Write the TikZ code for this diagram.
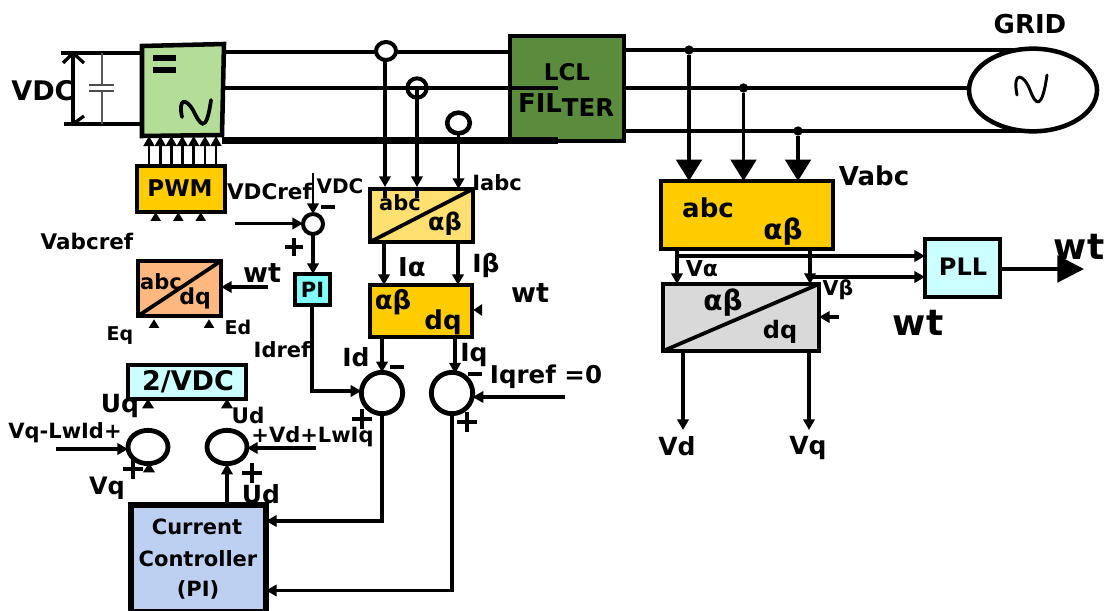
\documentclass[tikz,border=0pt]{standalone}
\usepackage{fontspec}
\setmainfont{DejaVu Sans}[BoldFont={DejaVu Sans Bold}]
\usetikzlibrary{arrows.meta,fit,shapes.geometric}
\newcommand{\fpx}[1]{\pgfmathsetmacro{\fpv}{#1*0.75}\fontsize{\fpv pt}{\fpv pt}\selectfont\bfseries}
\tikzset{
  pxgrid/.style={x=0.75pt,y=-0.75pt},
  blk/.style={draw=black,line width=3.4pt,inner sep=0pt,outer sep=0pt,rectangle},
  wire/.style={line width=2.6pt,draw=black},
  arr/.style={line width=2.7pt,draw=black,-{Triangle[length=8pt,width=8.5pt]}},
  bigarr/.style={line width=2.8pt,draw=black,-{Triangle[length=16pt,width=19pt]}},
  lab/.style={inner sep=0pt,outer sep=0pt,text=black,align=center},
  sumc/.style={draw=black,line width=3.6pt,fill=white,ellipse,inner sep=0pt,outer sep=0pt},
  tri/.style={fill=black,draw=none,isosceles triangle,isosceles triangle stretches,inner sep=0pt,minimum width=8pt,minimum height=6.5pt,shape border rotate=90},
  dot/.style={fill=black,circle,inner sep=0pt,minimum size=7pt},
  diag/.style={line width=2.8pt,draw=black},
}
\begin{document}
\begin{tikzpicture}[pxgrid]
\useasboundingbox (0,0) rectangle (1109,610);
\path[fill=white] (0,0) rectangle (1109,610);

% converter
\draw[line width=3.4pt,fill={rgb,255:red,180;green,222;blue,152}] (142,46) -- (224,44) -- (222,135) -- (142,136) -- cycle;
\node[inner sep=0pt,outer sep=0pt,fit={(142,45)(223,136)}] (conv) {};
\draw[line width=3.8pt] (153,58) -- (176,58) (153,70) -- (176,70);
\draw[line width=2.8pt,line cap=round] (182,117) .. controls (178,98) and (186,98) .. (193,110) .. controls (200,124) and (206,136) .. (211,100);

% DC side
\coordinate (dct0) at (61,53); \coordinate (dcb0) at (64,124);
\coordinate (dctm) at (73,53); \coordinate (dcbm) at (73,124);
\draw[wire] (dct0) -- (dct0 -| conv.west);
\draw[wire] (dcb0) -- (dcb0 -| conv.west);
\draw[line width=2.4pt] (dctm) -- (dcbm);
\draw[line width=2.4pt] (63,63) -- (dctm) -- (84,63);
\draw[line width=2.4pt] (73,124) -- (84,116);
\coordinate (cpt) at (102,53); \coordinate (cpb) at (102,124);
\coordinate (cp1) at (102,85); \coordinate (cp2) at (102,91);
\draw[line width=0.8pt,draw=black!65] (cpt) -- (cp1) (cp2) -- (cpb);
\draw[line width=1.4pt,draw=black!70] (89,85) -- (114,85) (89,91) -- (114,91);
\node[lab,font=\fpx{27}] (vdc) at (43,91) {VDC};

% power rails left of filter
\node[blk,fill={rgb,255:red,91;green,140;blue,62},fit={(510,36)(624,141)}] (lcl) {};
\node[lab,font=\fpx{23}] (lcl1) at (567,72) {LCL};
\node[lab,font=\fpx{26}] (lcl2) at (540,103) {FIL};
\node[lab,font=\fpx{24.5}] (lcl3) at (588,108) {TER};
\coordinate (m1) at (558,88); \coordinate (m2) at (558,140.5);
\draw[wire] (conv.east |- 0,52) -- (lcl.west |- 0,52);
\draw[line width=3.2pt] (conv.east |- 0,88) -- (m1);
\draw[line width=5pt] (222,140.5) -- (m2);

% grid
\coordinate (rgt) at (1025,50); \coordinate (rgm) at (970,88); \coordinate (rgb) at (1025,131);
\draw[wire] (lcl.east |- rgt) -- (rgt);
\draw[wire] (lcl.east |- rgm) -- (rgm);
\draw[wire] (lcl.east |- rgb) -- (rgb);
\node[draw=black,line width=3.4pt,ellipse,fill=white,minimum width=96pt,minimum height=62pt,inner sep=0pt,outer sep=0pt] (grid) at (1033,90) {};
\draw[line width=2.2pt,line cap=round] (1017,95) .. controls (1012,70) and (1024,74) .. (1030,90) .. controls (1036,106) and (1042,110) .. (1047,75);
\node[lab,font=\fpx{26}] (gridt) at (1030,24) {GRID};

% sensors
\node[sumc,minimum width=15pt,minimum height=13.5pt,line width=3pt] (s1) at (386,51) {};
\node[draw=black,line width=3pt,circle,minimum size=14.5pt,inner sep=0pt,outer sep=0pt] (s2) at (417,88) {};
\node[sumc,minimum width=17pt,minimum height=15.5pt,line width=3.4pt] (s3) at (458.5,123) {};

% abc/alpha-beta current
\node[blk,line width=3pt,fill={rgb,255:red,255;green,224;blue,112},fit={(370,189)(473,242)}] (cabc) {};
\draw[diag] (cabc.south west) -- (cabc.north east);
\node[lab,font=\fpx{21}] (cabc1) at (400,203) {abc};
\node[lab,font=\fpx{24}] (cabc2) at (445,224) {αβ};
\node[lab,font=\fpx{21}] (iabc) at (497,183) {Iabc};
\coordinate (ax1) at (385,198); \coordinate (ax2) at (417,198);
\draw[line width=2.7pt] (385,187) -- (ax1) (417,187) -- (ax2);
\draw[arr] (385,61) -- (385,187);
\draw[arr] (417,88) -- (417,187);
\draw[arr] (s3.south) -- (s3.south |- cabc.north);

% alpha-beta/dq current
\node[blk,fill={rgb,255:red,255;green,204;blue,0},fit={(370,285)(472,337)}] (cdq) {};
\node[lab,font=\fpx{26}] (cdq1) at (393,302) {αβ};
\node[lab,font=\fpx{26}] (cdq2) at (443,322) {dq};
\draw[arr] (384,244) -- (384,285);
\draw[arr] (458,244) -- (458,285);
\node[lab,font=\fpx{26}] (ia) at (412,267) {Iα};
\node[lab,font=\fpx{25}] (ib) at (486,265) {Iβ};
\node[lab,font=\fpx{27}] (wt1) at (530,293) {wt};
\node[tri,shape border rotate=180,minimum width=9pt] (wt1t) at (479,310) {};

% current sums
\node[sumc,circle,minimum size=31pt] (sd) at (382,393) {};
\node[sumc,circle,minimum size=31pt] (sq) at (452,393) {};
\draw[arr] (382,339) -- (sd.north);
\draw[arr] (455,339) -- (455,373.5);
\node[lab,font=\fpx{25}] (idt) at (356,357) {Id};
\node[lab,font=\fpx{25}] (iqt) at (474,355) {Iq};
\draw[line width=3.2pt] (390,367) -- (404,367) (468,374) -- (482,374);
\draw[line width=3.6pt] (352,419) -- (372,419) (362,409) -- (362,429);
\draw[line width=3.6pt] (457,422) -- (477,422) (467,412) -- (467,432);
\node[lab,font=\fpx{24.5}] (iqref) at (546,377) {Iqref =0};
\coordinate (iqs) at (565,397);
\draw[arr] (iqs) -- (sq.east |- iqs);

% VDC sum + PI
\node[sumc,circle,minimum size=15pt,line width=3pt] (sv) at (313,224) {};
\coordinate (vt) at (313,173); \coordinate (vl) at (235,223.5);
\draw[arr,line width=2.2pt] (vt) -- (sv.north);
\draw[arr,line width=2.2pt] (vl) -- (sv.west |- vl);
\draw[line width=3.2pt] (321,207) -- (335,207);
\draw[line width=3.4pt] (285,247) -- (303,247) (294,238) -- (294,256);
\node[lab,font=\fpx{21.5}] (vdcr) at (269.5,191) {VDCref};
\node[lab,font=\fpx{20}] (vdc2) at (340,186) {VDC};
\node[blk,fill={rgb,255:red,128;green,255;blue,255},fit={(295,274)(330,305)}] (pi) {};
\node[lab,font=\fpx{21}] (pit) at (312.5,290) {PI};
\draw[arr] (sv.south) -- (pi.north -| sv.south);
\coordinate (pc) at (312,391);
\draw[arr] (pi.south -| pc) -- (pc) -- (sd.west |- pc);
\node[lab,font=\fpx{21}] (idr) at (282,350) {Idref};

% PWM
\node[blk,fill={rgb,255:red,255;green,204;blue,0},fit={(137,166)(225,212)}] (pwm) {};
\node[lab,font=\fpx{23}] (pwmt) at (180,188) {PWM};
\foreach \x/\n in {149/a,160.3/b,171.3/c,182.3/d,193.7/e,205/f,216/g}{
  \coordinate (pwm\n) at (\x,164.5);
  \draw[line width=2.1pt,-{Triangle[length=7.5pt,width=8pt]}] (pwm\n) -- (pwm\n |- conv.south);
}
\node[tri] (ta) at (155.7,218) {};
\node[tri] (tb) at (178.3,218) {};
\node[tri] (tc) at (200.7,218) {};
\node[lab,font=\fpx{21.5}] (vabcr) at (87,241) {Vabcref};

% abc/dq ref
\node[blk,fill={rgb,255:red,255;green,185;blue,128},fit={(138,261)(221,316)}] (rdq) {};
\draw[diag] (rdq.south west) -- (rdq.north east);
\node[lab,font=\fpx{21}] (rdq1) at (161,282) {abc};
\node[lab,font=\fpx{22}] (rdq2) at (195,298) {dq};
\node[lab,font=\fpx{27}] (wt2) at (262,273) {wt};
\coordinate (wt2s) at (268,287);
\draw[arr] (wt2s) -- (rdq.east |- wt2s);
\node[tri] (te) at (154,325) {};
\node[tri] (tf) at (209,325) {};
\node[lab,font=\fpx{19}] (eq) at (120,336) {Eq};
\node[lab,font=\fpx{19}] (ed) at (238,327) {Ed};

% 2/VDC
\node[blk,fill={rgb,255:red,204;green,255;blue,255},fit={(128,365)(246,399)}] (twov) {};
\node[lab,font=\fpx{27}] (twot) at (188,382) {2/VDC};
\node[tri,minimum width=9pt,minimum height=7pt] (tg) at (148,405) {};
\node[tri,minimum width=9pt,minimum height=7pt] (th) at (227,405) {};
\node[lab,font=\fpx{25}] (uq) at (120,406) {Uq};
\node[lab,font=\fpx{21.5}] (ud) at (248,415) {Ud};

% inner sums
\node[sumc,minimum width=30pt,minimum height=25pt] (sl) at (148,447) {};
\node[sumc,minimum width=30pt,minimum height=25pt] (sr) at (227,447) {};
\node[lab,font=\fpx{21}] (vql) at (65,433) {Vq-LwId+};
\node[lab,font=\fpx{21}] (vdl) at (312.5,437) {+Vd+LwIq};
\coordinate (sls) at (56,449); \coordinate (srs) at (316,448);
\draw[arr] (sls) -- (sl.west |- sls);
\draw[arr] (srs) -- (sr.east |- srs);
\draw[line width=3.4pt] (123,469) -- (143,469) (133,459) -- (133,479);
\draw[line width=3.4pt] (242,473) -- (262,473) (252,463) -- (252,483);
\node[tri,minimum width=9pt,minimum height=7pt] (ti) at (149,469) {};
\node[lab,font=\fpx{24}] (vqb) at (107,488) {Vq};
\node[lab,font=\fpx{25}] (udb) at (261,494) {Ud};

% current controller
\node[blk,fill={rgb,255:red,189;green,208;blue,242},line width=3.8pt,fit={(131,505)(266,612)}] (cc) {};
\node[lab,font=\fpx{21}] (cc1) at (197,527) {Current};
\node[lab,font=\fpx{21}] (cc2) at (198,559) {Controller};
\node[lab,font=\fpx{21}] (cc3) at (198,590) {(PI)};
\draw[arr] (cc.north -| sr.south) -- (sr.south);
\coordinate (ci1) at (382,521); \coordinate (ci2) at (452,590.5);
\draw[arr] (sd.south) -- (ci1) -- (cc.east |- ci1);
\draw[arr] (sq.south) -- (ci2) -- (cc.east |- ci2);

% Vabc
\node[blk,fill={rgb,255:red,255;green,204;blue,0},fit={(661,181)(833,249)}] (vabc) {};
\node[lab,font=\fpx{26}] (vabc1) at (708,208) {abc};
\node[lab,font=\fpx{28}] (vabc2) at (783,232) {αβ};
\node[lab,font=\fpx{26}] (vabct) at (874,176) {Vabc};
\node[dot] (d1) at (689,50) {};
\node[dot] (d2) at (743.5,88) {};
\node[dot] (d3) at (798,131) {};
\draw[bigarr] (d1) -- (d1 |- vabc.north);
\draw[bigarr] (d2) -- (d2 |- vabc.north);
\draw[bigarr] (d3) -- (d3 |- vabc.north);

% PLL
\node[blk,fill={rgb,255:red,204;green,255;blue,255},fit={(925,239)(1000,297)}] (pll) {};
\node[lab,font=\fpx{24}] (pllt) at (963,267) {PLL};
\coordinate (pllo) at (1084,269);
\draw[line width=2.4pt,-{Triangle[length=20pt,width=20pt]}] (pll.east |- pllo) -- (pllo);
\node[lab,font=\fpx{36}] (wt3) at (1079,247) {wt};
\node[lab,font=\fpx{36}] (wt4) at (918,323) {wt};

% grey dq
\node[blk,fill={rgb,255:red,217;green,217;blue,217},line width=3pt,fit={(663,284)(819,351)}] (vdq) {};
\draw[diag] (vdq.south west) -- (vdq.north east);
\node[lab,font=\fpx{28}] (vdq1) at (723,303) {αβ};
\node[lab,font=\fpx{24}] (vdq2) at (780,332) {dq};
\node[lab,font=\fpx{22}] (va) at (702,269) {Vα};
\node[lab,font=\fpx{20.5}] (vb) at (838,290) {Vβ};
\coordinate (vax) at (677,256); \coordinate (vbx) at (810,277);
\draw[arr,line width=2.4pt] (vabc.south -| vax) -- (vdq.north -| vax);
\draw[arr,line width=2.4pt] (vabc.south -| vbx) -- (vdq.north -| vbx);
\draw[arr,line width=2.4pt] (vax) -- (pll.west |- vax);
\draw[arr,line width=2.4pt] (vbx) -- (pll.west |- vbx);
\coordinate (wt4s) at (839,317);
\draw[arr] (wt4s) -- (vdq.east |- wt4s);
\coordinate (vdo) at (683,430); \coordinate (vqo) at (809,430);
\draw[arr] (vdq.south -| vdo) -- (vdo);
\draw[arr] (vdq.south -| vqo) -- (vqo);
\node[lab,font=\fpx{25}] (vdt) at (677,446) {Vd};
\node[lab,font=\fpx{25}] (vqt) at (808,448) {Vq};
\end{tikzpicture}
\end{document}
